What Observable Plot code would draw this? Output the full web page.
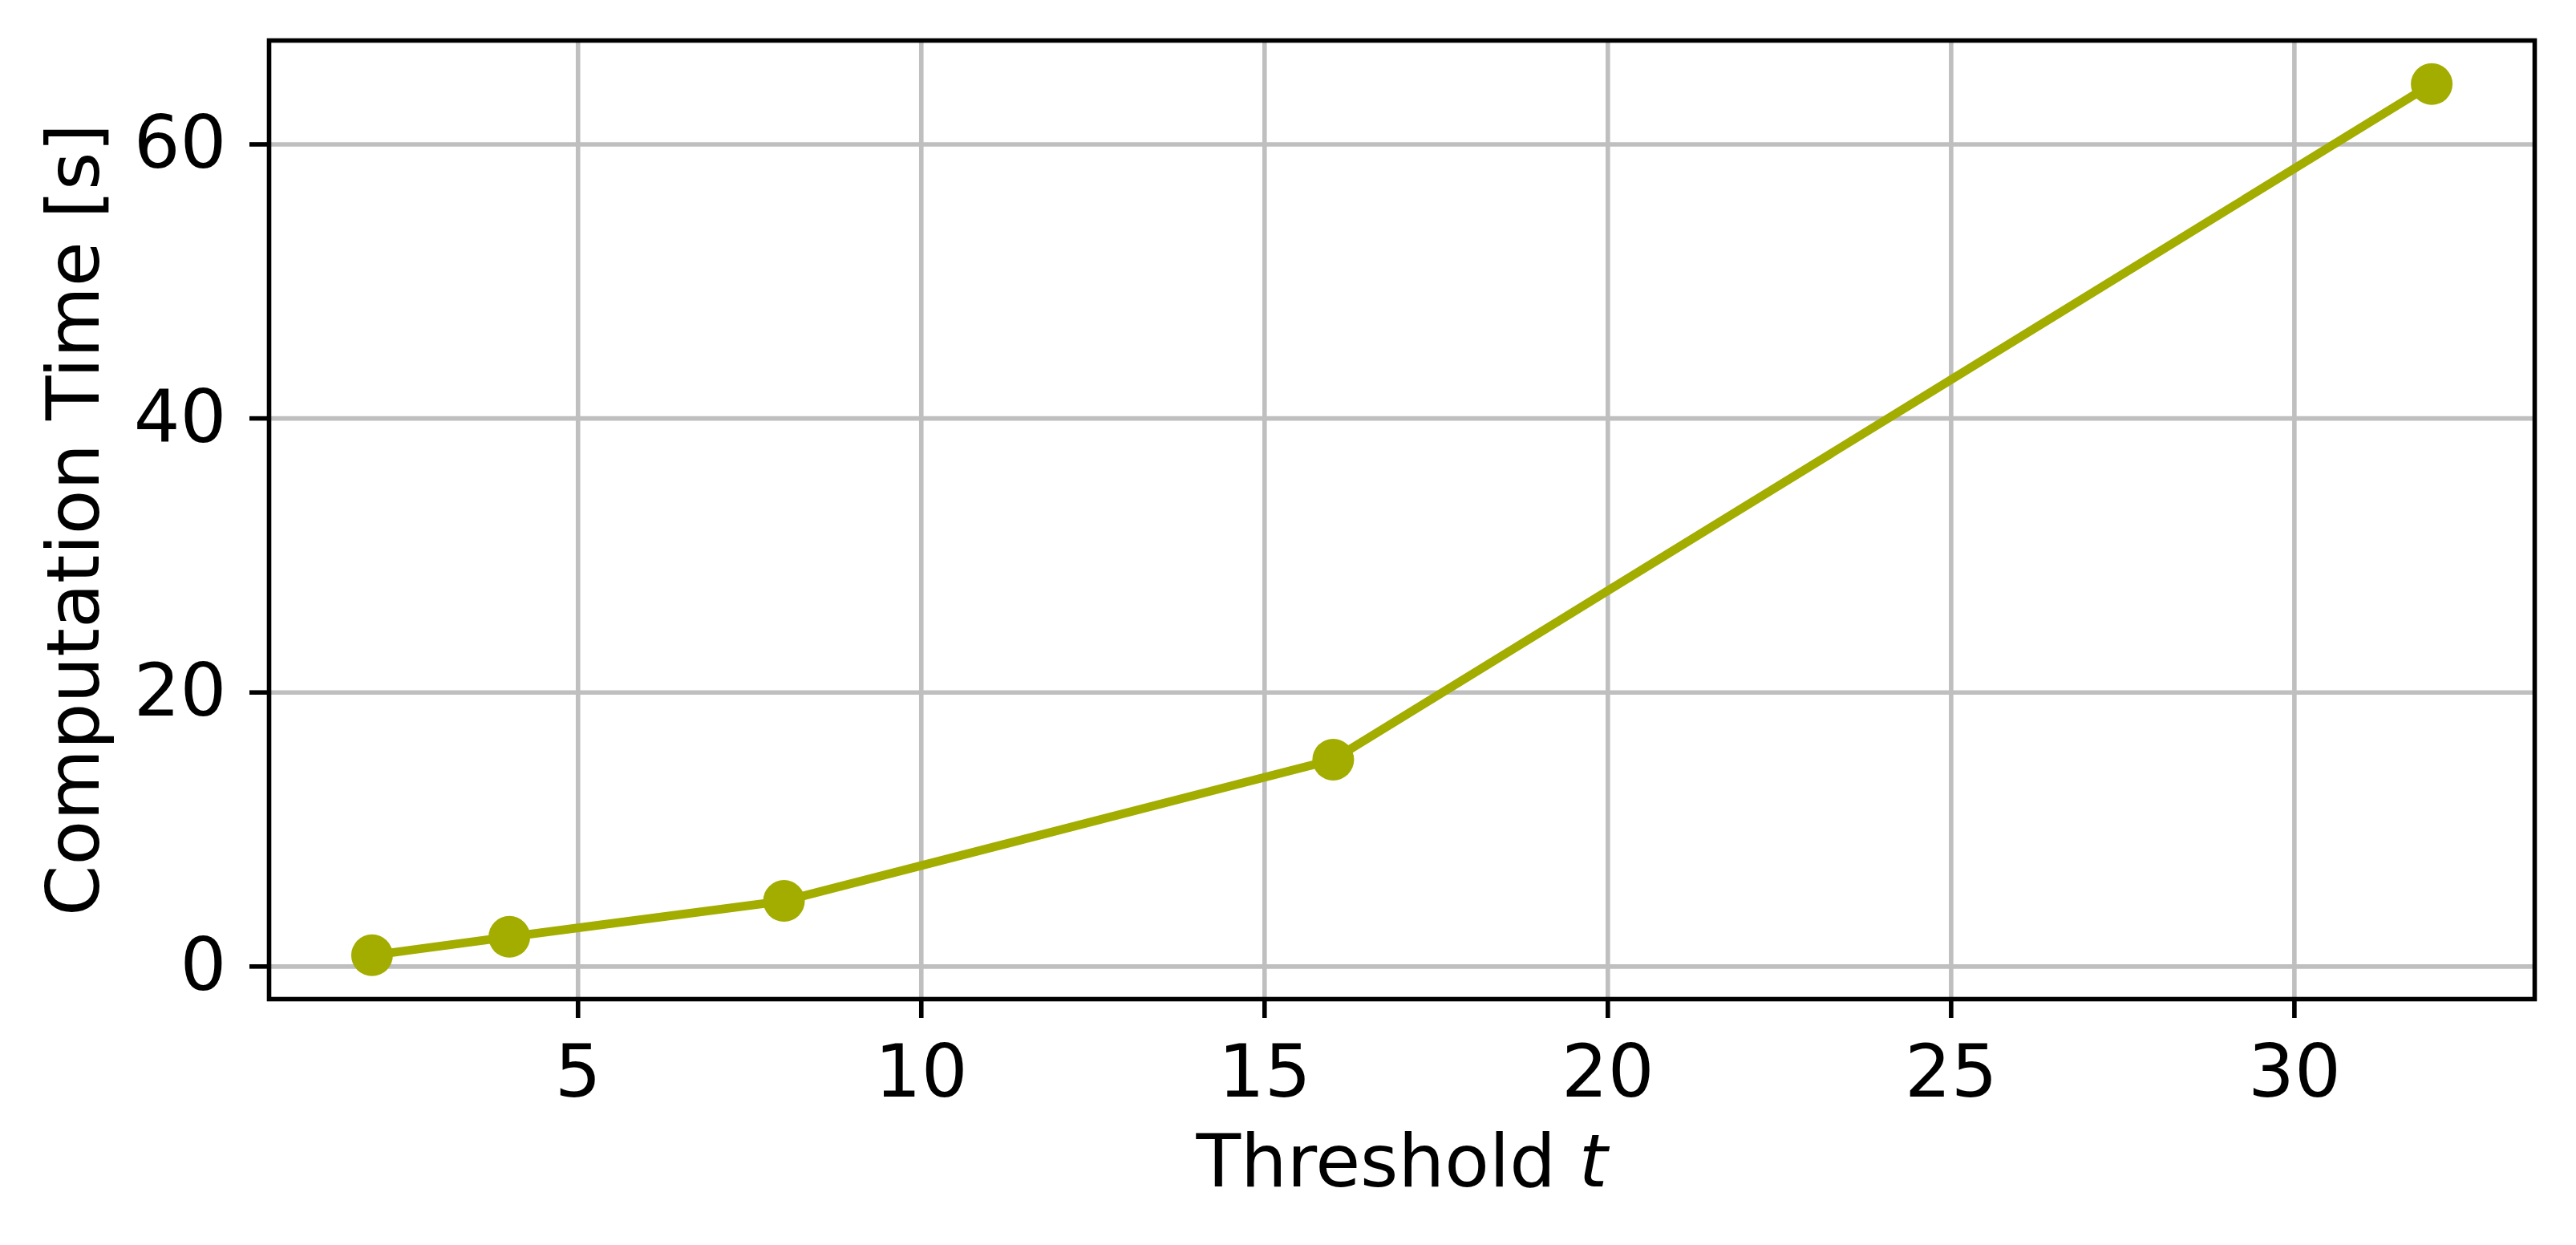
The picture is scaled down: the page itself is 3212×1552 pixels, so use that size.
<!DOCTYPE html>
<html>
<head>
<meta charset="utf-8">
<script src="https://cdn.jsdelivr.net/npm/d3@7"></script>
<script src="https://cdn.jsdelivr.net/npm/@observablehq/plot@0.6"></script>
<style>
  html, body { margin: 0; padding: 0; background: #fff; }
  #chart svg { display: block; }
</style>
</head>
<body>
<div id="chart"></div>
<script>
const thresholds = [2, 4, 8, 16, 32];
const times = [0.82, 2.17, 4.79, 15.1, 64.4];
const xTicks = [5, 10, 15, 20, 25, 30];
const yTicks = [0, 20, 40, 60];
const xLabel = "Threshold ";
const xLabelVar = "t";
const yLabel = "Computation Time [s]";

const data = thresholds.map((t, i) => ({t, time: times[i]}));

const color = "#a2ad00";
const gridColor = "#bfbfbf";
const fontSize = 91;
const W = 3212, H = 1552;
const mL = 335, mR = 52, mT = 50, mB = 307;

const chart = Plot.plot({
  width: W,
  height: H,
  marginLeft: mL,
  marginRight: mR,
  marginTop: mT,
  marginBottom: mB,
  style: {fontFamily: "'DejaVu Sans', sans-serif", fontSize: fontSize + "px", background: "#fff", color: "#000"},
  x: {domain: [0.5, 33.5]},
  y: {domain: [-2.38, 67.58]},
  marks: [
    Plot.gridX(xTicks, {stroke: gridColor, strokeOpacity: 1, strokeWidth: 5.6}),
    Plot.gridY(yTicks, {stroke: gridColor, strokeOpacity: 1, strokeWidth: 5.6}),
    Plot.line(data, {x: "t", y: "time", stroke: color, strokeWidth: 10.8}),
    Plot.dot(data, {x: "t", y: "time", r: 26, fill: color, stroke: "none"}),
    Plot.frame({stroke: "#000", strokeWidth: 5.6}),
    Plot.axisX(xTicks, {tickSize: 24, tickPadding: 33, strokeWidth: 5.6, fontSize: fontSize, label: null}),
    Plot.axisY(yTicks, {tickSize: 24, tickPadding: 29, strokeWidth: 5.6, fontSize: fontSize, label: null}),
    Plot.text([xLabel], {frameAnchor: "bottom", textAnchor: "middle", lineAnchor: "bottom", dy: 1478 - (H - mB), fontSize: fontSize, fill: "#000", className: "xlabel"}),
    Plot.text([yLabel], {frameAnchor: "left", textAnchor: "middle", lineAnchor: "bottom", rotate: -90, dx: 122 - mL, fontSize: fontSize, fill: "#000"})
  ]
});

// add italic variable to x label
d3.select(chart).selectAll("g.xlabel text").each(function() {
  const t = d3.select(this);
  const txt = t.text();
  t.text(null);
  t.append("tspan").text(txt).style("white-space", "pre");
  t.append("tspan").text(xLabelVar).attr("font-style", "italic");
  t.style("white-space", "pre");
});

document.getElementById("chart").appendChild(chart);
</script>
</body>
</html>
